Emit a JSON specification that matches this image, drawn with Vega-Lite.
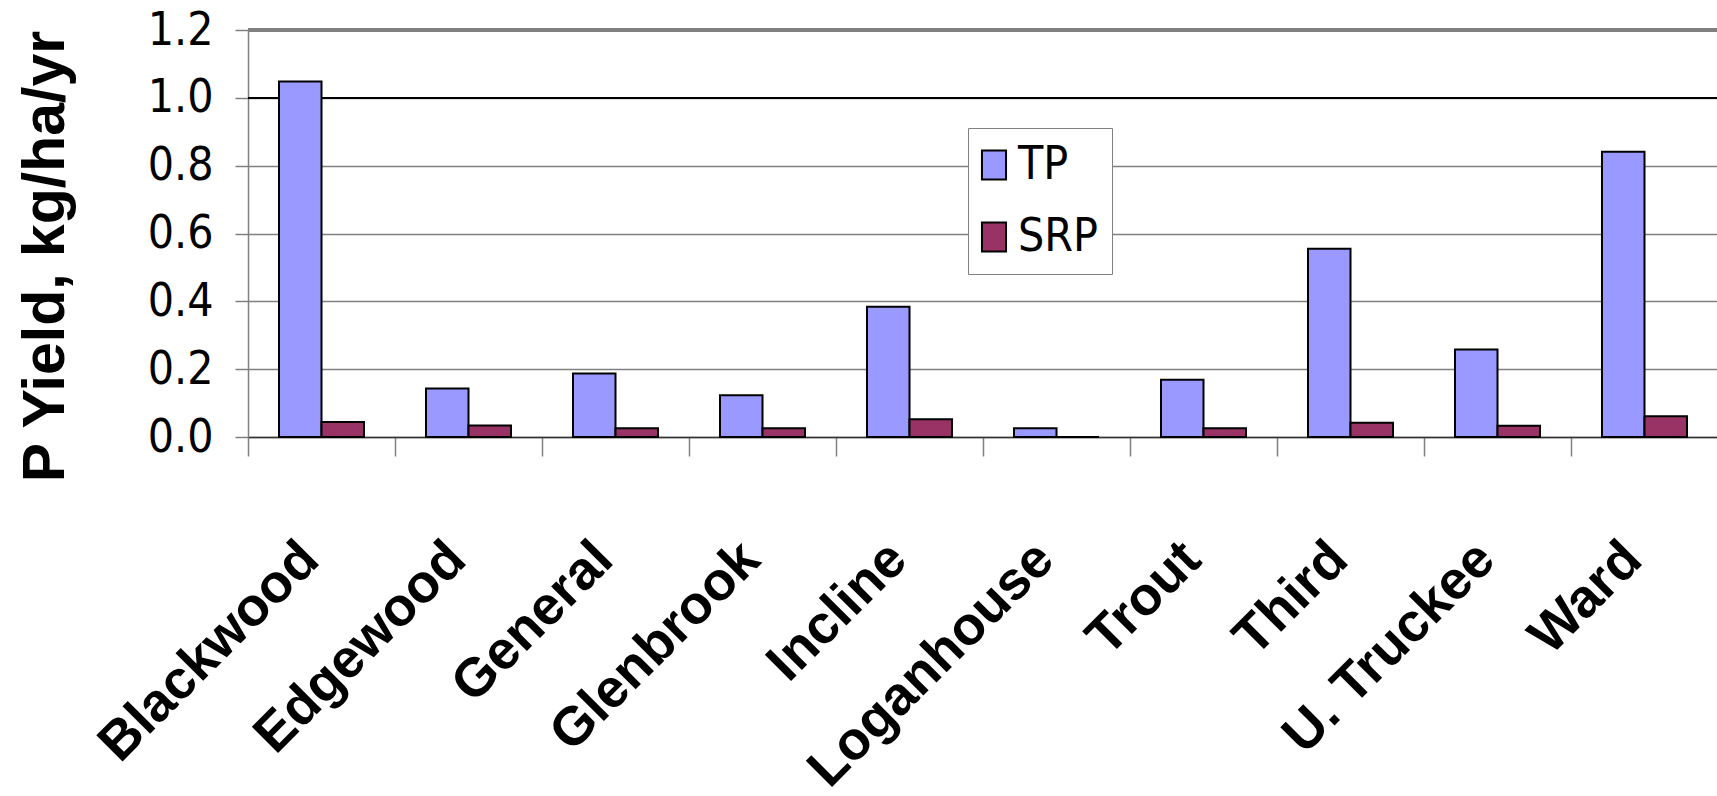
{
  "$schema": "https://vega.github.io/schema/vega-lite/v6.json",
  "width": 1470,
  "height": 407,
  "autosize": {"type": "none"},
  "padding": {"left": 248, "top": 30, "right": 0, "bottom": 359},
  "background": "white",
  "data": {
    "values": [
      {"site": "Blackwood", "series": "TP", "value": 1.048},
      {"site": "Blackwood", "series": "SRP", "value": 0.044},
      {"site": "Edgewood", "series": "TP", "value": 0.143},
      {"site": "Edgewood", "series": "SRP", "value": 0.034},
      {"site": "General", "series": "TP", "value": 0.187},
      {"site": "General", "series": "SRP", "value": 0.026},
      {"site": "Glenbrook", "series": "TP", "value": 0.123},
      {"site": "Glenbrook", "series": "SRP", "value": 0.026},
      {"site": "Incline", "series": "TP", "value": 0.384},
      {"site": "Incline", "series": "SRP", "value": 0.052},
      {"site": "Loganhouse", "series": "TP", "value": 0.026},
      {"site": "Loganhouse", "series": "SRP", "value": 0.0},
      {"site": "Trout", "series": "TP", "value": 0.169},
      {"site": "Trout", "series": "SRP", "value": 0.026},
      {"site": "Third", "series": "TP", "value": 0.555},
      {"site": "Third", "series": "SRP", "value": 0.042},
      {"site": "U. Truckee", "series": "TP", "value": 0.258},
      {"site": "U. Truckee", "series": "SRP", "value": 0.033},
      {"site": "Ward", "series": "TP", "value": 0.841},
      {"site": "Ward", "series": "SRP", "value": 0.061}
    ]
  },
  "layer": [
    {
      "mark": {"type": "rule", "color": "black", "strokeWidth": 1.5},
      "encoding": {"y": {"datum": 1.0, "type": "quantitative"}}
    },
    {
      "mark": {"type": "rule", "color": "#808080", "strokeWidth": 3},
      "encoding": {"y": {"datum": 1.2, "type": "quantitative"}}
    },
    {
      "mark": {"type": "bar", "stroke": "black", "strokeWidth": 2},
      "encoding": {
        "x": {
          "field": "site",
          "type": "nominal",
          "sort": null,
          "scale": {"paddingInner": 0, "paddingOuter": 0},
          "axis": {
            "title": null,
            "bandPosition": 0,
            "labelOffset": 0,
            "labelAngle": -45,
            "labelAlign": "right",
            "labelBaseline": "alphabetic",
            "labelFont": "Liberation Sans",
            "labelFontWeight": "bold",
            "labelFontSize": 54,
            "labelColor": "black",
            "labelPadding": 106,
            "labelOverlap": false,
            "labelLimit": 0,
            "ticks": true,
            "tickSize": 19,
            "tickColor": "#808080",
            "tickWidth": 1.5,
            "domainColor": "#333333",
            "domainWidth": 1.5,
            "grid": false
          }
        },
        "xOffset": {
          "field": "series",
          "type": "nominal",
          "sort": ["TP", "SRP"],
          "scale": {"paddingInner": 0, "paddingOuter": 0.729}
        },
        "y": {
          "field": "value",
          "type": "quantitative",
          "scale": {"domain": [0, 1.2], "nice": false},
          "axis": {
            "title": "P Yield, kg/ha/yr",
            "titleFont": "Liberation Sans",
            "titleFontWeight": "bold",
            "titleFontSize": 59,
            "titleColor": "black",
            "titleX": -185,
            "titleY": 226,
            "titleAngle": -90,
            "titleAlign": "center",
            "titleBaseline": "alphabetic",
            "values": [0, 0.2, 0.4, 0.6, 0.8, 1.0, 1.2],
            "format": ".1f",
            "labelFont": "DejaVu Sans Condensed, Liberation Sans",
            "labelFontSize": 46,
            "labelColor": "black",
            "labelPadding": 22,
            "tickSize": 13,
            "tickColor": "#808080",
            "tickWidth": 1.5,
            "domainColor": "#808080",
            "domainWidth": 1.5,
            "grid": true,
            "gridColor": "#808080",
            "gridWidth": 1.5
          }
        },
        "color": {
          "field": "series",
          "type": "nominal",
          "sort": ["TP", "SRP"],
          "scale": {"domain": ["TP", "SRP"], "range": ["#9999FF", "#993366"]},
          "legend": {
            "title": null,
            "orient": "none",
            "legendX": 720,
            "legendY": 98,
            "padding": 14,
            "rowPadding": 26,
            "fillColor": "white",
            "strokeColor": "#808080",
            "symbolType": "M-0.83,-1H0.83V1H-0.83Z",
            "symbolSize": 841,
            "symbolOffset": -11,
            "symbolStrokeColor": "black",
            "symbolStrokeWidth": 2,
            "symbolOpacity": 1,
            "labelFont": "DejaVu Sans Condensed, Liberation Sans",
            "labelFontSize": 46,
            "labelColor": "black",
            "labelOffset": 1
          }
        }
      }
    }
  ],
  "config": {"view": {"stroke": null}}
}
